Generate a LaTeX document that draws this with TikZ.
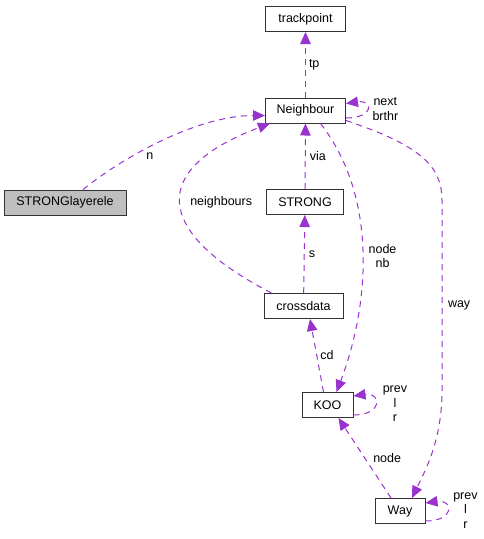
\documentclass[tikz,border=0pt]{standalone}
\usepackage{fontspec}
\setmainfont{Liberation Sans}
\usetikzlibrary{arrows.meta}
\definecolor{edgecol}{HTML}{9A32CD}
\definecolor{boxgray}{HTML}{BFBFBF}
\tikzset{
 cls/.style={draw=black!80,line width=1pt,fill=white,minimum height=25pt,inner sep=0pt},
 uses/.style={edgecol,line width=1pt,dash pattern=on 6pt off 5pt,-{Triangle[length=12pt,width=10.5pt]}},
 lbl/.style={text=black,inner sep=0pt,align=center}
}
\begin{document}
\begin{tikzpicture}[x=1pt,y=-1pt,font=\fontsize{12.5}{14.5}\selectfont]
\useasboundingbox (0,0) rectangle (483,539);
\foreach \n/\x/\y/\w in {trackpoint/305.5/19/80,Neighbour/305.5/110.5/80,STRONG/305/202/77,
 crossdata/303.5/306/79,KOO/327.5/405/51,Way/400/511/50}
 \node[cls,minimum width=\w pt] (\n) at (\x,\y) {\n};
\node[cls,fill=boxgray,minimum width=122pt] (STRONGlayerele) at (65,202.5) {STRONGlayerele};
% straight members
\draw[uses] (Neighbour) -- (trackpoint) node[lbl,midway,right=3pt] {tp};
\draw[uses] (STRONG) -- (Neighbour) node[lbl,midway,right=4pt] {via};
\draw[uses] (crossdata) -- (STRONG) node[lbl,midway,right=4pt] {s};
\draw[uses] ([xshift=-4pt]KOO.north) -- ([xshift=6.5pt]crossdata.south) node[lbl,midway,right=3pt] {cd};
\draw[uses] ([xshift=-9pt]Way.north) -- ([xshift=11pt]KOO.south) node[lbl,midway,right=8pt] {node};
% curved members
\draw[uses] ([xshift=18pt]STRONGlayerele.north) .. controls +(42,-34) and +(-66,0) .. ([yshift=-5pt]Neighbour.west)
 node[lbl,pos=0.42,below=5pt] {n};
\draw[uses] ([xshift=8pt]crossdata.north west) .. controls +(-120,-62) and +(-120,45) .. ([xshift=5pt]Neighbour.south west)
 node[lbl,pos=0.5,right=9pt] {neighbours};
\draw[uses] ([xshift=15pt]Neighbour.south) .. controls +(60,77) and +(31,-81) .. ([xshift=9pt]KOO.north)
 node[lbl,pos=0.5,right=5.5pt] {node\\nb};
\draw[uses] ([yshift=-10pt]Neighbour.east) .. controls +(74,25) and +(0,-35) .. ++(96,80)
 -- ++(0,190) node[lbl,pos=0.55,right=5.5pt] {way}
 .. controls +(0,50) and +(13,-27) .. ([xshift=12pt]Way.north);
% self references
\draw[uses] ([yshift=-7.5pt]Neighbour.east) .. controls +(28,0) and +(28,-4) .. ([yshift=7pt]Neighbour.east)
 node[lbl,pos=0.5,right=5pt] {next\\brthr};
\draw[uses] ([yshift=-10pt]KOO.east) .. controls +(30,0) and +(28,-4) .. ([yshift=9pt]KOO.east)
 node[lbl,pos=0.5,right=7pt] {prev\\l\\r};
\draw[uses] ([yshift=-10pt]Way.east) .. controls +(30,0) and +(28,-4) .. ([yshift=8pt]Way.east)
 node[lbl,pos=0.5,right=5.5pt] {prev\\l\\r};
\end{tikzpicture}
\end{document}
